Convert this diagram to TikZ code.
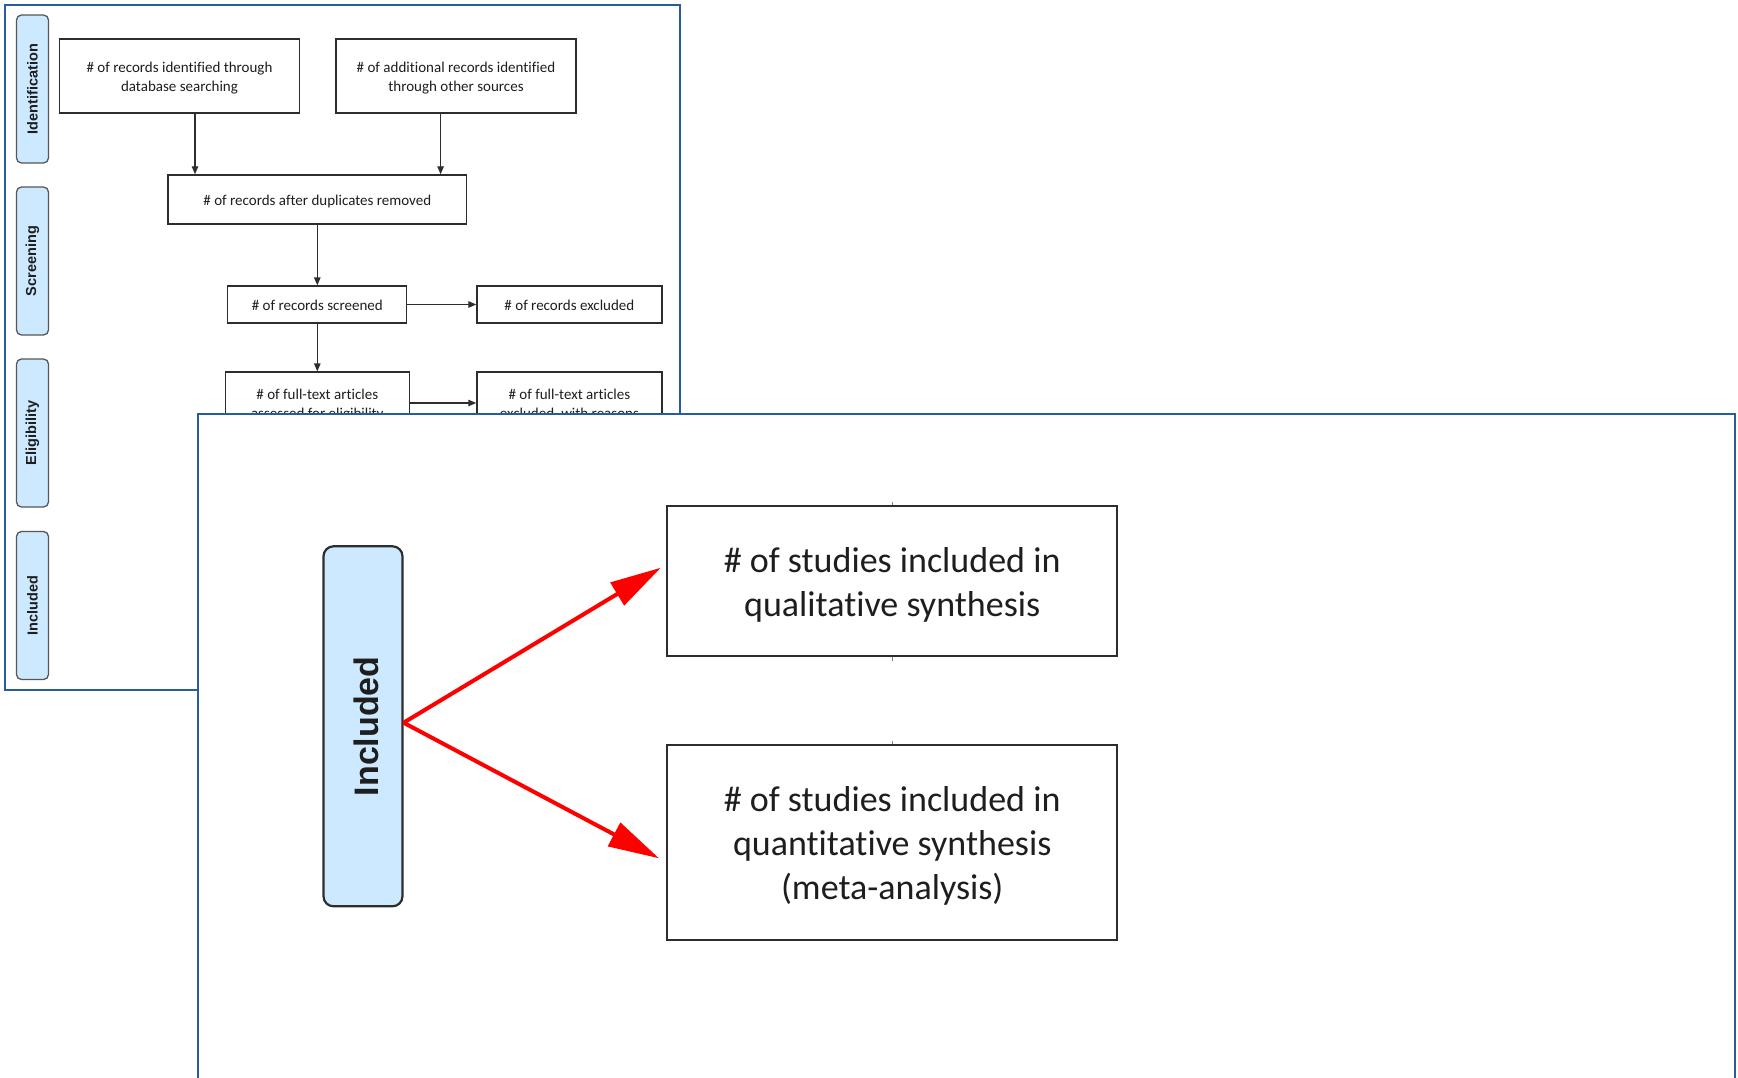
\documentclass[tikz,border=0pt]{standalone}
\usepackage{fontspec}
\setmainfont{Carlito}[Ligatures={NoCommon,NoContextual,NoRare}]
\newfontfamily\lanefont{Liberation Sans}
\usetikzlibrary{arrows.meta}
\definecolor{panelblue}{RGB}{38,93,154}
\definecolor{lanefill}{RGB}{204,233,255}
\definecolor{boxline}{RGB}{45,45,45}
\definecolor{txt}{RGB}{30,30,30}
\newcommand\txtdown[2]{\raisebox{-#1}[\height][\depth]{\begin{tabular}{@{}c@{}}#2\end{tabular}}}
\tikzset{
  panel/.style={draw=panelblue, line width=2pt},
  smalllane/.style={draw=boxline!80, line width=1.3pt, fill=lanefill, rounded corners=5pt,
    rotate=90, minimum width=148pt, minimum height=32pt, inner sep=0pt,
    font=\lanefont\bfseries\fontsize{14.5}{17}\selectfont, text=txt},
  biglane/.style={draw=boxline, line width=2.2pt, fill=lanefill, rounded corners=10pt,
    rotate=90, minimum width=360pt, minimum height=79pt, inner sep=0pt,
    font=\lanefont\bfseries\fontsize{34}{40}\selectfont, text=txt},
  fbox/.style={draw=boxline, line width=1.3pt, fill=white, align=center, inner sep=0pt,
    font=\fontsize{15}{19}\selectfont, text=txt},
  bigbox/.style={draw=boxline, line width=2pt, fill=white, align=center, inner sep=0pt,
    font=\fontsize{36}{44}\selectfont, text=txt},
  arr/.style={draw=boxline, line width=1.3pt, -{Triangle[length=8pt,width=6.5pt]}},
  redarr/.style={draw=red, line width=4pt, -{Triangle[length=51pt,width=26pt]}},
  tick/.style={draw=gray, line width=0.8pt}
}
\begin{document}
\begin{tikzpicture}[x=1pt,y=-1pt]
\useasboundingbox (0,0) rectangle (1738,1077);
\fill[white] (0,0) rectangle (1738,1077);

% back panel
\draw[panel] (5,5) rectangle (680,690);
\node[smalllane] (lid) at (32.5,89) {Identification};
\node[smalllane] (lsc) at (32.5,261) {Screening};
\node[smalllane] (lel) at (32.5,433) {Eligibility};
\node[smalllane] (lin) at (32.5,605.5) {Included};

\node[fbox, minimum width=240pt, minimum height=74pt] (a) at (179.5,76) {\txtdown{2.5pt}{\# of records identified through\\database searching}};
\node[fbox, minimum width=240pt, minimum height=74pt] (b) at (456,76) {\txtdown{2.5pt}{\# of additional records identified\\through other sources}};
\node[fbox, minimum width=298.5pt, minimum height=49pt] (c) at (317.3,199.4) {\txtdown{2.5pt}{\# of records after duplicates removed}};
\node[fbox, minimum width=179pt, minimum height=37pt] (d) at (317.3,304.5) {\txtdown{2.5pt}{\# of records screened}};
\node[fbox, minimum width=185pt, minimum height=37pt] (e) at (569.4,304.5) {\txtdown{2.5pt}{\# of records excluded}};
\node[fbox, minimum width=183.7pt, minimum height=62pt] (f) at (317.3,403) {\txtdown{2.5pt}{\# of full-text articles\\assessed for eligibility}};
\node[fbox, minimum width=185pt, minimum height=62pt] (g) at (569.4,403) {\txtdown{2.5pt}{\# of full-text articles\\excluded, with reasons}};

\draw[arr] ([xshift=15.5pt]a.south) -- ([xshift=15.5pt]a.south |- c.north);
\draw[arr] ([xshift=-15.4pt]b.south) -- ([xshift=-15.4pt]b.south |- c.north);
\draw[arr] (c.south) -- (d.north);
\draw[arr] (d.east) -- (e.west);
\draw[arr] (d.south) -- (f.north);
\draw[arr] (f.east) -- (g.west);

% front panel
\fill[white] (198,414) rectangle (1735,1085);
\draw[panel] (198,1085) -- (198,414) -- (1735,414) -- (1735,1085);

\node[biglane] (inc) at (363,726.3) {\raisebox{-3pt}[\height][\depth]{Included}};
\node[bigbox, minimum width=449.7pt, minimum height=150pt] (q) at (892.2,581) {\txtdown{4.5pt}{\# of studies included in\\qualitative synthesis}};
\node[bigbox, minimum width=449.7pt, minimum height=195pt] (r) at (892.2,842.5) {\txtdown{4.5pt}{\# of studies included in\\quantitative synthesis\\(meta-analysis)}};

\draw[tick] (q.north) -- ++(0,-3.5);
\draw[tick] (q.south) -- ++(0,3.5);
\draw[tick] (r.north) -- ++(0,-3.5);

\coordinate (src) at ([yshift=3.6pt]inc.south);
\draw[redarr] (src) -- ([xshift=-5.5pt,yshift=13.3pt]q.west);
\draw[redarr] (src) -- ([xshift=-7.3pt,yshift=-15.8pt]r.west);
\end{tikzpicture}
\end{document}
